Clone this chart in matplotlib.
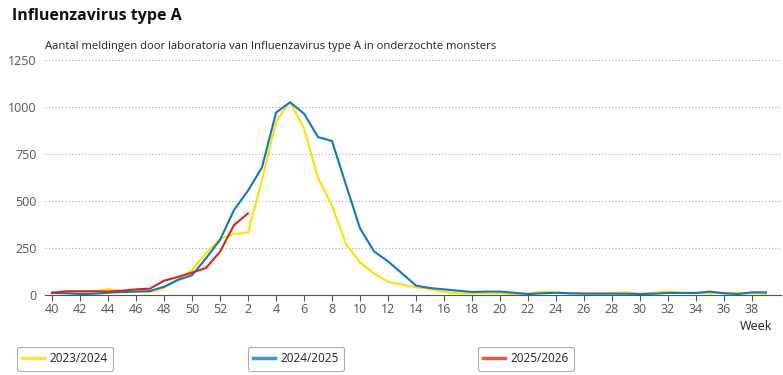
import matplotlib
matplotlib.use("Agg")
import matplotlib.pyplot as plt
from matplotlib.lines import Line2D

plt.rcParams['font.family'] = ['Open Sans', 'DejaVu Sans']

weeks = list(range(40, 53)) + list(range(1, 40))
tick_labels = [str(w) for w in weeks]

season_2324 = [9, 12, 16, 20, 30, 20, 20, 16, 37, 83, 133, 222, 298, 325, 332, 612, 922, 1028,
               886, 622, 475, 271, 172, 115, 70, 55, 41, 32, 16, 9, 9, 9, 9, 5, 9, 16, 14, 9, 12,
               11, 11, 14, 7, 12, 18, 12, 11, 9, 12, 12, 9, 5]
season_2425 = [12, 9, 5, 7, 12, 16, 18, 21, 44, 80, 105, 195, 293, 452, 555, 679, 970, 1025,
               965, 840, 819, 585, 355, 232, 179, 115, 50, 37, 30, 23, 16, 18, 18, 12, 5, 9, 12,
               9, 7, 7, 7, 7, 5, 7, 11, 11, 11, 18, 9, 5, 14, 14]
season_2526 = [12, 20, 20, 20, 18, 23, 30, 34, 76, 96, 119, 144, 230, 372, 434]

series = [
    ("2023/2024", season_2324, "#ffe100", "#f7e34a"),
    ("2024/2025", season_2425, "#0b7ac4", "#3b9bd9"),
    ("2025/2026", season_2526, "#d4281c", "#e35b4b"),
]

W, H = 783, 375
fig = plt.figure(figsize=(W / 100, H / 100), dpi=100)
ax = fig.add_axes([45 / W, (H - 295) / H, (781 - 45) / W, (295 - 60) / H])

for name, vals, col, _ in series:
    ax.plot(range(len(vals)), vals, color=col, lw=1.5)

ax.set_xlim(-0.5, 52.07)
ax.set_ylim(0, 1250)
ax.set_yticks([0, 250, 500, 750, 1000, 1250])
ax.set_xticks(range(0, len(weeks), 2))
ax.set_xticklabels(tick_labels[::2])
ax.grid(axis='y', color='#aaaaaa', linestyle=(0, (1, 2)), lw=0.8)
ax.set_axisbelow(True)
for s in ['top', 'right', 'left']:
    ax.spines[s].set_visible(False)
ax.spines['bottom'].set_color('#555555')
ax.tick_params(axis='y', length=0, labelsize=9, labelcolor='#555555', pad=6)
ax.tick_params(axis='x', length=4, color='#555555', labelsize=9, labelcolor='#555555', pad=2)

fig.text(12 / W, 1 - 16 / H, "Influenzavirus type A", fontsize=11.5, fontweight='bold',
         va='center', ha='left', color='#111111')
fig.text(45 / W, 1 - 46 / H,
         "Aantal meldingen door laboratoria van Influenzavirus type A in onderzochte monsters",
         fontsize=8.1, va='center', ha='left', color='#222222')
fig.text(772 / W, 1 - 327 / H, "Week", fontsize=9, va='center', ha='right', color='#222222')

legend_x = [17, 248, 478]
for (name, vals, col, lcol), lx in zip(series, legend_x):
    h = Line2D([], [], color=lcol, lw=2.5)
    leg = fig.legend([h], [name], loc='upper left', bbox_to_anchor=(lx / W, 1 - 347 / H),
                     frameon=True, fancybox=True, fontsize=8.5, handlelength=1.8,
                     handletextpad=0.5, borderpad=0.45, borderaxespad=0)
    leg.get_frame().set_edgecolor('#999999')
    leg.get_frame().set_linewidth(0.8)
    for t in leg.get_texts():
        t.set_color('#222222')

fig.savefig("out.png", dpi=100)
